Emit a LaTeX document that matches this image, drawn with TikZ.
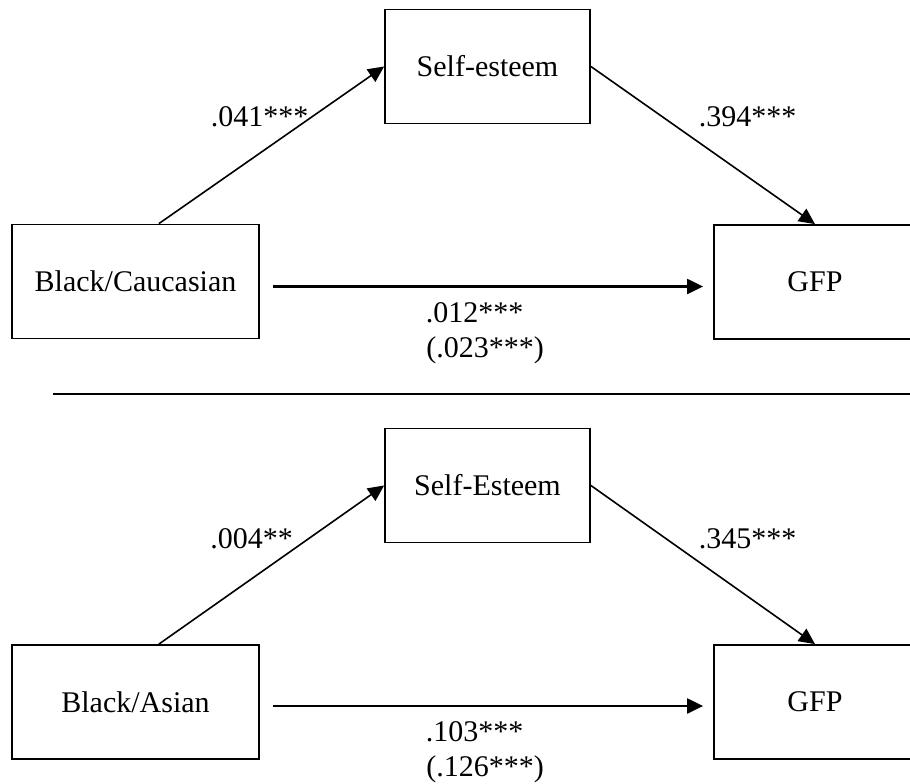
\documentclass[tikz,border=0pt]{standalone}
\usepackage{fontspec}
\setmainfont{Liberation Serif}
\usetikzlibrary{arrows.meta}

\tikzset{
  box/.style={draw, line width=1.8pt, minimum height=114pt, inner sep=0pt},
  link/.style={line width=1.6pt, -{Triangle[length=16pt,width=15pt]}},
  coef/.style={inner sep=0pt}
}

\begin{document}
\begin{tikzpicture}[x=1pt,y=-1pt,font=\fontsize{30}{36}\selectfont]
\useasboundingbox (0,0) rectangle (910,784);

% Black/Caucasian
\node[box, minimum width=205pt] (se1) at (487.5,66.5) {Self-esteem};
\node[box, minimum width=247pt] (bc1) at (135.5,281.5) {Black/Caucasian};
\node[box, minimum width=202pt] (gfp1) at (815,282) {GFP};

\draw[link] (bc1.68) -- (se1.west);
\draw[link] (se1.east) -- (gfp1.north);
\draw[link, line width=2.2pt, shorten <=13pt, shorten >=10pt] ([yshift=-5pt]bc1.east) -- ([yshift=-5pt]bc1.east -| gfp1.west);

\node[coef] (a1) at (259.5,117) {.041***};
\node[coef] (b1) at (747.5,117) {.394***};
\node[coef] (c1) at (474.5,313) {.012***};
\node[coef] (d1) at (485,350) {(.023***)};

\draw[line width=1.8pt] (53,394) -- (915,394);

% Black/Asian
\node[box, minimum width=205pt] (se2) at (487.5,485.5) {Self-Esteem};
\node[box, minimum width=247pt] (ba2) at (135.5,702) {Black/Asian};
\node[box, minimum width=202pt] (gfp2) at (815,702) {GFP};

\draw[link] (ba2.68) -- (se2.west);
\draw[link] (se2.east) -- (gfp2.north);
\draw[link, line width=2.2pt, shorten <=13pt, shorten >=10pt] ([yshift=-4pt]ba2.east) -- ([yshift=-4pt]ba2.east -| gfp2.west);

\node[coef] (a2) at (251.5,539) {.004**};
\node[coef] (b2) at (747.5,539) {.345***};
\node[coef] (c2) at (474.5,732) {.103***};
\node[coef] (d2) at (485,769) {(.126***)};
\end{tikzpicture}
\end{document}
